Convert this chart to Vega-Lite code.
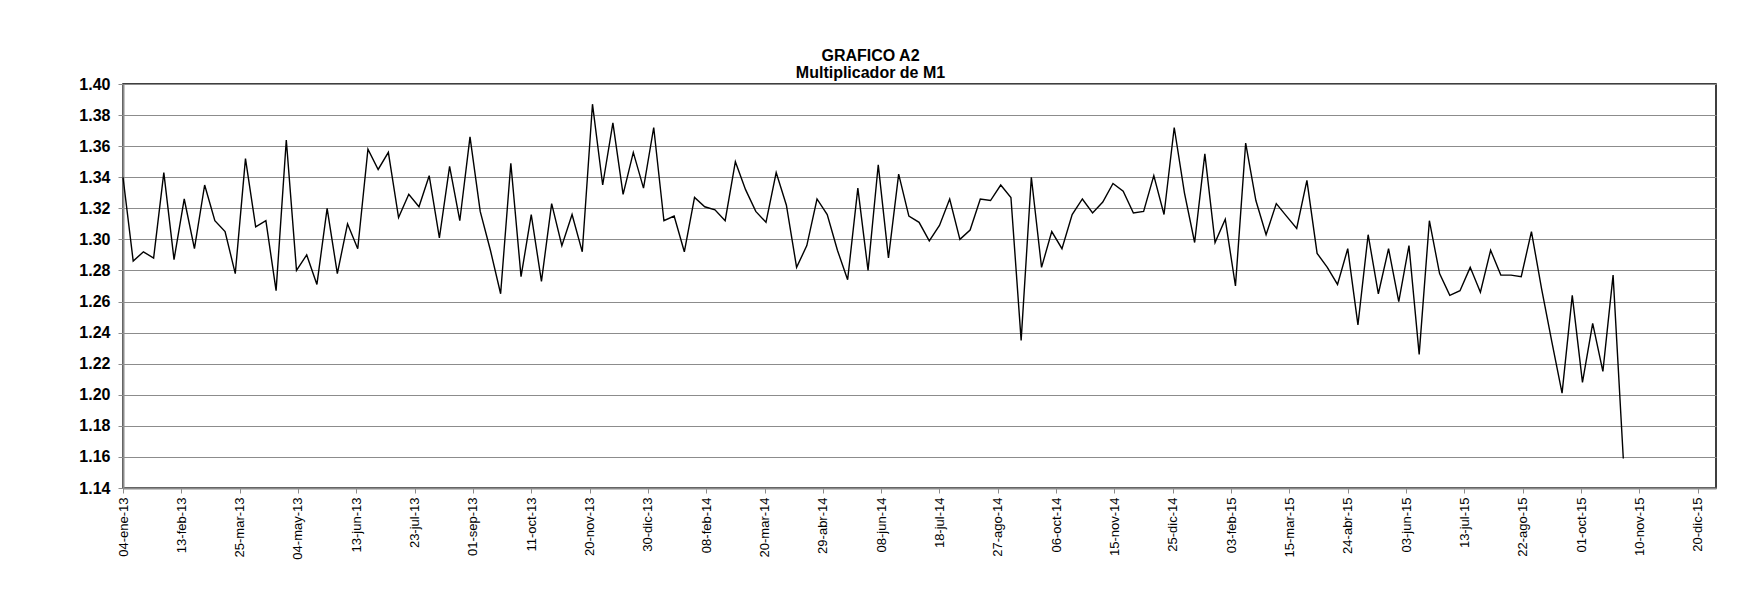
{
  "$schema": "https://vega.github.io/schema/vega-lite/v6.json",
  "width": 1593,
  "height": 404,
  "autosize": "none",
  "padding": {"left": 123, "top": 84, "right": 25, "bottom": 102},
  "background": "white",
  "config": {
    "font": "Liberation Sans",
    "view": {"stroke": "#000000", "strokeWidth": 1.5}
  },
  "title": {
    "text": ["GRAFICO A2", "Multiplicador de M1"],
    "fontSize": 16,
    "fontWeight": "bold",
    "color": "#000000",
    "anchor": "middle",
    "dx": -49,
    "offset": -5,
    "lineHeight": 17,
    "font": "Liberation Sans"
  },
  "data": {
    "values": [
      {"date": "2013-01-04", "value": 1.340},
      {"date": "2013-01-11", "value": 1.286},
      {"date": "2013-01-18", "value": 1.292},
      {"date": "2013-01-25", "value": 1.288},
      {"date": "2013-02-01", "value": 1.343},
      {"date": "2013-02-08", "value": 1.287},
      {"date": "2013-02-15", "value": 1.326},
      {"date": "2013-02-22", "value": 1.294},
      {"date": "2013-03-01", "value": 1.335},
      {"date": "2013-03-08", "value": 1.312},
      {"date": "2013-03-15", "value": 1.305},
      {"date": "2013-03-22", "value": 1.278},
      {"date": "2013-03-29", "value": 1.352},
      {"date": "2013-04-05", "value": 1.308},
      {"date": "2013-04-12", "value": 1.312},
      {"date": "2013-04-19", "value": 1.267},
      {"date": "2013-04-26", "value": 1.364},
      {"date": "2013-05-03", "value": 1.280},
      {"date": "2013-05-10", "value": 1.290},
      {"date": "2013-05-17", "value": 1.271},
      {"date": "2013-05-24", "value": 1.320},
      {"date": "2013-05-31", "value": 1.278},
      {"date": "2013-06-07", "value": 1.310},
      {"date": "2013-06-14", "value": 1.294},
      {"date": "2013-06-21", "value": 1.358},
      {"date": "2013-06-28", "value": 1.345},
      {"date": "2013-07-05", "value": 1.356},
      {"date": "2013-07-12", "value": 1.314},
      {"date": "2013-07-19", "value": 1.329},
      {"date": "2013-07-26", "value": 1.321},
      {"date": "2013-08-02", "value": 1.341},
      {"date": "2013-08-09", "value": 1.301},
      {"date": "2013-08-16", "value": 1.347},
      {"date": "2013-08-23", "value": 1.312},
      {"date": "2013-08-30", "value": 1.366},
      {"date": "2013-09-06", "value": 1.318},
      {"date": "2013-09-13", "value": 1.293},
      {"date": "2013-09-20", "value": 1.265},
      {"date": "2013-09-27", "value": 1.349},
      {"date": "2013-10-04", "value": 1.276},
      {"date": "2013-10-11", "value": 1.316},
      {"date": "2013-10-18", "value": 1.273},
      {"date": "2013-10-25", "value": 1.323},
      {"date": "2013-11-01", "value": 1.296},
      {"date": "2013-11-08", "value": 1.316},
      {"date": "2013-11-15", "value": 1.292},
      {"date": "2013-11-22", "value": 1.387},
      {"date": "2013-11-29", "value": 1.335},
      {"date": "2013-12-06", "value": 1.375},
      {"date": "2013-12-13", "value": 1.329},
      {"date": "2013-12-20", "value": 1.356},
      {"date": "2013-12-27", "value": 1.333},
      {"date": "2014-01-03", "value": 1.372},
      {"date": "2014-01-10", "value": 1.312},
      {"date": "2014-01-17", "value": 1.315},
      {"date": "2014-01-24", "value": 1.292},
      {"date": "2014-01-31", "value": 1.327},
      {"date": "2014-02-07", "value": 1.321},
      {"date": "2014-02-14", "value": 1.319},
      {"date": "2014-02-21", "value": 1.312},
      {"date": "2014-02-28", "value": 1.350},
      {"date": "2014-03-07", "value": 1.332},
      {"date": "2014-03-14", "value": 1.318},
      {"date": "2014-03-21", "value": 1.311},
      {"date": "2014-03-28", "value": 1.343},
      {"date": "2014-04-04", "value": 1.322},
      {"date": "2014-04-11", "value": 1.282},
      {"date": "2014-04-18", "value": 1.296},
      {"date": "2014-04-25", "value": 1.326},
      {"date": "2014-05-02", "value": 1.316},
      {"date": "2014-05-09", "value": 1.293},
      {"date": "2014-05-16", "value": 1.274},
      {"date": "2014-05-23", "value": 1.333},
      {"date": "2014-05-30", "value": 1.280},
      {"date": "2014-06-06", "value": 1.348},
      {"date": "2014-06-13", "value": 1.288},
      {"date": "2014-06-20", "value": 1.342},
      {"date": "2014-06-27", "value": 1.315},
      {"date": "2014-07-04", "value": 1.311},
      {"date": "2014-07-11", "value": 1.299},
      {"date": "2014-07-18", "value": 1.309},
      {"date": "2014-07-25", "value": 1.326},
      {"date": "2014-08-01", "value": 1.300},
      {"date": "2014-08-08", "value": 1.306},
      {"date": "2014-08-15", "value": 1.326},
      {"date": "2014-08-22", "value": 1.325},
      {"date": "2014-08-29", "value": 1.335},
      {"date": "2014-09-05", "value": 1.327},
      {"date": "2014-09-12", "value": 1.235},
      {"date": "2014-09-19", "value": 1.340},
      {"date": "2014-09-26", "value": 1.282},
      {"date": "2014-10-03", "value": 1.305},
      {"date": "2014-10-10", "value": 1.294},
      {"date": "2014-10-17", "value": 1.316},
      {"date": "2014-10-24", "value": 1.326},
      {"date": "2014-10-31", "value": 1.317},
      {"date": "2014-11-07", "value": 1.324},
      {"date": "2014-11-14", "value": 1.336},
      {"date": "2014-11-21", "value": 1.331},
      {"date": "2014-11-28", "value": 1.317},
      {"date": "2014-12-05", "value": 1.318},
      {"date": "2014-12-12", "value": 1.341},
      {"date": "2014-12-19", "value": 1.316},
      {"date": "2014-12-26", "value": 1.372},
      {"date": "2015-01-02", "value": 1.330},
      {"date": "2015-01-09", "value": 1.298},
      {"date": "2015-01-16", "value": 1.355},
      {"date": "2015-01-23", "value": 1.298},
      {"date": "2015-01-30", "value": 1.313},
      {"date": "2015-02-06", "value": 1.270},
      {"date": "2015-02-13", "value": 1.362},
      {"date": "2015-02-20", "value": 1.325},
      {"date": "2015-02-27", "value": 1.303},
      {"date": "2015-03-06", "value": 1.323},
      {"date": "2015-03-13", "value": 1.315},
      {"date": "2015-03-20", "value": 1.307},
      {"date": "2015-03-27", "value": 1.338},
      {"date": "2015-04-03", "value": 1.291},
      {"date": "2015-04-10", "value": 1.282},
      {"date": "2015-04-17", "value": 1.271},
      {"date": "2015-04-24", "value": 1.294},
      {"date": "2015-05-01", "value": 1.245},
      {"date": "2015-05-08", "value": 1.303},
      {"date": "2015-05-15", "value": 1.265},
      {"date": "2015-05-22", "value": 1.294},
      {"date": "2015-05-29", "value": 1.260},
      {"date": "2015-06-05", "value": 1.296},
      {"date": "2015-06-12", "value": 1.226},
      {"date": "2015-06-19", "value": 1.312},
      {"date": "2015-06-26", "value": 1.278},
      {"date": "2015-07-03", "value": 1.264},
      {"date": "2015-07-10", "value": 1.267},
      {"date": "2015-07-17", "value": 1.282},
      {"date": "2015-07-24", "value": 1.266},
      {"date": "2015-07-31", "value": 1.293},
      {"date": "2015-08-07", "value": 1.277},
      {"date": "2015-08-14", "value": 1.277},
      {"date": "2015-08-21", "value": 1.276},
      {"date": "2015-08-28", "value": 1.305},
      {"date": "2015-09-04", "value": 1.268},
      {"date": "2015-09-11", "value": 1.234},
      {"date": "2015-09-18", "value": 1.201},
      {"date": "2015-09-25", "value": 1.264},
      {"date": "2015-10-02", "value": 1.208},
      {"date": "2015-10-09", "value": 1.246},
      {"date": "2015-10-16", "value": 1.215},
      {"date": "2015-10-23", "value": 1.277},
      {"date": "2015-10-30", "value": 1.159}
    ]
  },
  "mark": {"type": "line", "color": "#000000", "strokeWidth": 1.4, "interpolate": "linear"},
  "encoding": {
    "x": {
      "field": "date",
      "type": "temporal",
      "scale": {
        "type": "utc",
        "domain": [
          {"year": 2013, "month": 1, "date": 4, "utc": true},
          {"year": 2016, "month": 1, "date": 1, "hours": 14, "utc": true}
        ]
      },
      "axis": {
        "title": null,
        "values": [
          {"year": 2013, "month": 1, "date": 4, "utc": true},
          {"year": 2013, "month": 2, "date": 13, "utc": true},
          {"year": 2013, "month": 3, "date": 25, "utc": true},
          {"year": 2013, "month": 5, "date": 4, "utc": true},
          {"year": 2013, "month": 6, "date": 13, "utc": true},
          {"year": 2013, "month": 7, "date": 23, "utc": true},
          {"year": 2013, "month": 9, "date": 1, "utc": true},
          {"year": 2013, "month": 10, "date": 11, "utc": true},
          {"year": 2013, "month": 11, "date": 20, "utc": true},
          {"year": 2013, "month": 12, "date": 30, "utc": true},
          {"year": 2014, "month": 2, "date": 8, "utc": true},
          {"year": 2014, "month": 3, "date": 20, "utc": true},
          {"year": 2014, "month": 4, "date": 29, "utc": true},
          {"year": 2014, "month": 6, "date": 8, "utc": true},
          {"year": 2014, "month": 7, "date": 18, "utc": true},
          {"year": 2014, "month": 8, "date": 27, "utc": true},
          {"year": 2014, "month": 10, "date": 6, "utc": true},
          {"year": 2014, "month": 11, "date": 15, "utc": true},
          {"year": 2014, "month": 12, "date": 25, "utc": true},
          {"year": 2015, "month": 2, "date": 3, "utc": true},
          {"year": 2015, "month": 3, "date": 15, "utc": true},
          {"year": 2015, "month": 4, "date": 24, "utc": true},
          {"year": 2015, "month": 6, "date": 3, "utc": true},
          {"year": 2015, "month": 7, "date": 13, "utc": true},
          {"year": 2015, "month": 8, "date": 22, "utc": true},
          {"year": 2015, "month": 10, "date": 1, "utc": true},
          {"year": 2015, "month": 11, "date": 10, "utc": true},
          {"year": 2015, "month": 12, "date": 20, "utc": true}
        ],
        "labelExpr": "utcFormat(datum.value, '%d') + '-' + ['ene','feb','mar','abr','may','jun','jul','ago','sep','oct','nov','dic'][utcmonth(datum.value)] + '-' + utcFormat(datum.value, '%y')",
        "labelAngle": -90,
        "labelAlign": "right",
        "labelBaseline": "middle",
        "labelFontSize": 13,
        "labelColor": "#000000",
        "labelFont": "Liberation Sans",
        "labelPadding": 4,
        "labelOverlap": false,
        "labelFlush": false,
        "grid": false,
        "domainColor": "#8c8c8c",
        "domainWidth": 2,
        "tickColor": "#8c8c8c",
        "tickSize": 5,
        "tickWidth": 1
      }
    },
    "y": {
      "field": "value",
      "type": "quantitative",
      "scale": {"domain": [1.14, 1.40], "nice": false, "zero": false},
      "axis": {
        "title": null,
        "values": [1.14, 1.16, 1.18, 1.20, 1.22, 1.24, 1.26, 1.28, 1.30, 1.32, 1.34, 1.36, 1.38, 1.40],
        "format": ".2f",
        "labelFontSize": 16,
        "labelFontWeight": "bold",
        "labelColor": "#000000",
        "labelFont": "Liberation Sans",
        "labelPadding": 8,
        "grid": true,
        "gridColor": "#8c8c8c",
        "gridWidth": 1,
        "domainColor": "#8c8c8c",
        "domainWidth": 2,
        "tickColor": "#8c8c8c",
        "tickSize": 5,
        "tickWidth": 1
      }
    }
  }
}
